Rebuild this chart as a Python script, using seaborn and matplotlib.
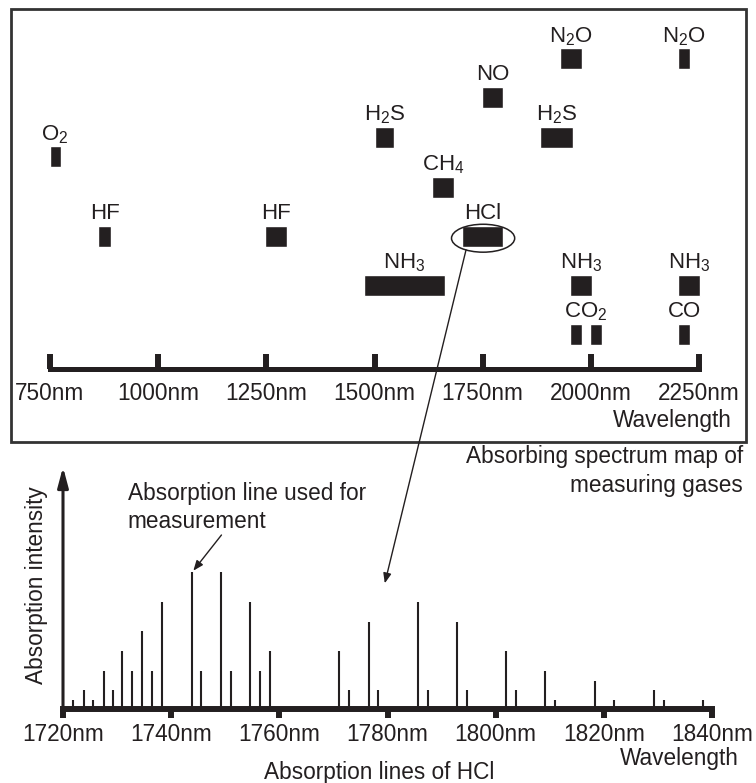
import numpy as np
import seaborn as sns
import matplotlib.pyplot as plt
from matplotlib.patches import Ellipse, Rectangle, ConnectionPatch

# --- absorption bands of the measuring gases (top map) ---
band_gas = ['O$_2$', 'HF', 'HF', 'H$_2$S', 'NH$_3$', 'CH$_4$', 'HCl', 'NO',
            'H$_2$S', 'N$_2$O', 'CO$_2$', 'CO$_2$', 'NH$_3$', 'N$_2$O', 'NH$_3$', 'CO']
band_start = [749, 862, 1248, 1500, 1475, 1634, 1702, 1748,
              1883, 1929, 1952, 1998, 1952, 2202, 2202, 2202]
band_end = [775, 890, 1298, 1546, 1662, 1684, 1798, 1798,
            1958, 1979, 1979, 2025, 2002, 2229, 2252, 2229]
band_row = [4.33, 2.71, 2.71, 4.73, 1.71, 3.71, 2.71, 5.55,
            4.73, 6.33, 0.71, 0.71, 1.71, 6.33, 1.71, 0.71]
band_group = [0, 1, 2, 3, 4, 5, 6, 7, 8, 9, 10, 10, 11, 12, 13, 14]
map_ticks = [750, 1000, 1250, 1500, 1750, 2000, 2250]

# --- HCl absorption lines (bottom) ---
line_nm = [1721.9, 1723.8, 1725.6, 1727.5, 1729.2, 1731.0, 1732.8, 1734.6, 1736.5,
           1738.3, 1743.8, 1745.6, 1749.2, 1751.0, 1754.6, 1756.4, 1758.3, 1771.0,
           1772.8, 1776.5, 1778.3, 1785.6, 1787.4, 1792.9, 1794.7, 1801.9, 1803.8,
           1809.2, 1811.0, 1818.3, 1821.9, 1829.3, 1831.1, 1838.3]
line_int = [9, 19, 9, 38, 19, 58, 38, 78, 38, 107, 137, 38, 137, 38, 107, 38, 58, 58,
            19, 87, 19, 107, 19, 87, 19, 58, 19, 38, 9, 28, 9, 19, 9, 9]
hcl_ticks = [1720, 1740, 1760, 1780, 1800, 1820, 1840]

INK = '#231f20'
FS = 16.3
sns.set_theme(style='white')
plt.rcParams['font.family'] = ['Liberation Sans', 'DejaVu Sans']
plt.rcParams['mathtext.default'] = 'regular'
plt.rcParams['text.color'] = INK
plt.rcParams['xtick.color'] = INK

W, H = 756, 783
fig = plt.figure(figsize=(W / 100, H / 100), dpi=100)


def rect(l, t, r, b):
    return [l / W, 1 - b / H, (r - l) / W, (b - t) / H]


# outer frame of the map
fig.add_artist(Rectangle((11 / W, 1 - 442 / H), 735 / W, 433 / H,
                         transform=fig.transFigure, fill=False, lw=2, ec='#333333'))

# ---------------- top: gas map ----------------
ax = fig.add_axes(rect(50, 9, 699, 369))
ax.set_facecolor('none')
ax.set_xlim(750, 2250)
ax.set_ylim(0, 7.35)
bh = 0.43
starts = np.array(band_start)
ends = np.array(band_end)
rows = np.array(band_row)
ax.barh(rows, ends - starts, left=starts, height=bh, color=INK, clip_on=False)
for g in sorted(set(band_group)):
    idx = [i for i, v in enumerate(band_group) if v == g]
    cx = (starts[idx].min() + ends[idx].max()) / 2
    ax.annotate(band_gas[idx[0]], xy=(cx, rows[idx[0]] + bh / 2), xytext=(0, 4.5),
                textcoords='offset points', ha='center', va='baseline', fontsize=16)

for s in ['top', 'left', 'right']:
    ax.spines[s].set_visible(False)
ax.spines['bottom'].set_linewidth(3.6)
ax.spines['bottom'].set_color(INK)
ax.set_xticks(map_ticks)
ax.set_xticklabels([f'{t}nm' for t in map_ticks], fontsize=FS)
ax.tick_params(axis='x', direction='in', length=11, width=4.3, pad=9.5, color=INK, bottom=True)
ax.set_yticks([])
ax.text(732 / W, 1 - 420 / H, 'Wavelength', transform=fig.transFigure,
        ha='right', va='center', fontsize=FS)

hcl = Ellipse((1751, 2.67), width=146, height=0.57, fill=False, lw=1.1, ec=INK)
ax.add_patch(hcl)

fig.text(743 / W, 1 - 471 / H, 'Absorbing spectrum map of\nmeasuring gases',
         ha='right', va='center', fontsize=FS, linespacing=1.3)

# ---------------- bottom: HCl lines ----------------
ax2 = fig.add_axes(rect(63, 467, 712, 709))
ax2.set_facecolor('none')
ax2.set_xlim(1720, 1840)
ax2.set_ylim(0, 242)
ax2.vlines(line_nm, 0, line_int, color=INK, lw=1.5)
sns.despine(ax=ax2, left=True)
ax2.spines['bottom'].set_linewidth(4.3)
ax2.spines['bottom'].set_color(INK)
ax2.set_xticks(hcl_ticks)
ax2.set_xticklabels([f'{t}nm' for t in hcl_ticks], fontsize=FS)
ax2.tick_params(axis='x', direction='out', length=6.5, width=4.3, pad=3.5, color=INK, bottom=True)
ax2.set_yticks([])
ax2.annotate('', xy=(1720, 242), xytext=(1720, 0),
             arrowprops=dict(arrowstyle='-|>,head_length=0.6,head_width=0.16', lw=2.2,
                             color=INK, shrinkA=0, shrinkB=0, mutation_scale=20),
             annotation_clip=False)

ax2.text(1732.0, 227, 'Absorption line used for\nmeasurement', ha='left', va='top',
         fontsize=FS, linespacing=1.3)
ax2.annotate('', xy=(1744.1, 138.3), xytext=(1749.3, 174),
             arrowprops=dict(arrowstyle='-|>,head_length=0.5,head_width=0.2', lw=1,
                             color=INK, shrinkA=0, shrinkB=0, mutation_scale=12))

fig.text(37 / W, 1 - 585 / H, 'Absorption intensity', rotation=90,
         ha='center', va='center', fontsize=FS)
fig.text(739 / W, 1 - 758 / H, 'Wavelength', ha='right', va='center', fontsize=FS)
fig.text(379 / W, 1 - 773 / H, 'Absorption lines of HCl', ha='center', va='center',
         fontsize=FS)

# link from the HCl band to its line spectrum
con = ConnectionPatch(xyA=(1711.5, 2.43), coordsA=ax.transData,
                      xyB=(1779.5, 125.7), coordsB=ax2.transData,
                      arrowstyle='-|>,head_length=0.5,head_width=0.2', mutation_scale=12,
                      lw=1, color=INK, shrinkA=0, shrinkB=0)
fig.add_artist(con)

fig.savefig('out.png', dpi=100)
